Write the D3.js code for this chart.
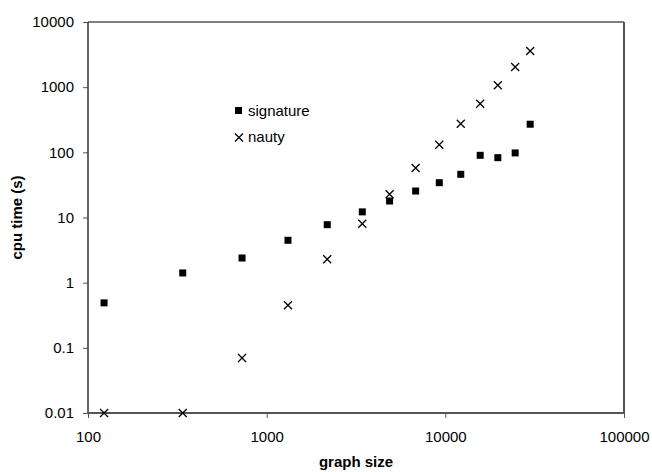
<!DOCTYPE html>
<html>
<head>
<meta charset="utf-8">
<script src="https://cdn.jsdelivr.net/npm/d3@7/dist/d3.min.js"></script>
<style>
  body { margin: 0; background: #fff; }
  svg text { font-family: "Liberation Sans", Arial, sans-serif; }
</style>
</head>
<body>
<svg id="chart" width="652" height="472"></svg>
<script>
// graph sizes (x) shared by both series
var graphSize = [123, 339, 728, 1316, 2183, 3430, 4875, 6820, 9250, 12200, 15670, 19670, 24600, 29850];
var signature = [0.49, 1.41, 2.39, 4.47, 7.76, 12.2, 17.9, 25.5, 34.2, 46, 90, 82.8, 97.9, 270];
var nauty = [0.01, 0.01, 0.07, 0.45, 2.29, 8.04, 22.7, 57.5, 131, 275, 558, 1069, 2040, 3590];

var xTicks = [100, 1000, 10000, 100000];
var yTicks = [0.01, 0.1, 1, 10, 100, 1000, 10000];

var svg = d3.select('#chart');

// plot box (window.top is reserved, so plot* names)
var plotL = 88, plotR = 624, plotT = 22, plotB = 413;

var x = d3.scaleLog().domain([100, 100000]).range([plotL, plotR]);
var y = d3.scaleLog().domain([0.01, 10000]).range([plotB, plotT]);

// axes
var xAxis = svg.append('g')
  .attr('transform', 'translate(0,' + plotB + ')')
  .call(d3.axisBottom(x).tickValues(xTicks).tickFormat(d => String(d)).tickSize(5).tickPadding(13));

var yAxis = svg.append('g')
  .attr('transform', 'translate(' + plotL + ',0)')
  .call(d3.axisLeft(y).tickValues(yTicks).tickFormat(d => String(d)).tickSize(5).tickPadding(9));

[xAxis, yAxis].forEach(g => {
  g.select('.domain').remove();
  g.selectAll('line').attr('stroke', '#555').attr('stroke-width', 1);
  g.selectAll('text').attr('font-size', 15).attr('fill', '#000')
    .attr('font-family', '"Liberation Sans", Arial, sans-serif');
});

// plot frame
svg.append('line').attr('x1', plotL).attr('x2', plotR).attr('y1', plotT).attr('y2', plotT)
  .attr('stroke', '#000').attr('stroke-width', 1.2);
svg.append('line').attr('x1', plotL).attr('x2', plotL).attr('y1', plotT).attr('y2', plotB)
  .attr('stroke', '#333').attr('stroke-width', 1.5);
svg.append('line').attr('x1', plotR).attr('x2', plotR).attr('y1', plotT).attr('y2', plotB + 1)
  .attr('stroke', '#555').attr('stroke-width', 2);
svg.append('line').attr('x1', plotL).attr('x2', plotR + 1).attr('y1', plotB).attr('y2', plotB)
  .attr('stroke', '#555').attr('stroke-width', 2);

// nauty crosses
var cross = 4;
function crossPath(cx, cy) {
  return 'M' + (cx - cross) + ',' + (cy - cross) + 'L' + (cx + cross) + ',' + (cy + cross) +
    'M' + (cx - cross) + ',' + (cy + cross) + 'L' + (cx + cross) + ',' + (cy - cross);
}

svg.append('g').attr('class', 'nauty')
  .selectAll('path')
  .data(nauty)
  .enter()
  .append('path')
  .attr('d', (d, i) => crossPath(x(graphSize[i]), y(d)))
  .attr('stroke', '#000')
  .attr('stroke-width', 1.3)
  .attr('fill', 'none');

// signature squares
var sq = 7;
svg.append('g').attr('class', 'signature')
  .selectAll('rect')
  .data(signature)
  .enter()
  .append('rect')
  .attr('x', (d, i) => x(graphSize[i]) - sq / 2)
  .attr('y', d => y(d) - sq / 2)
  .attr('width', sq)
  .attr('height', sq)
  .attr('fill', '#000');

// legend
var legend = svg.append('g').attr('class', 'legend');
legend.append('rect')
  .attr('x', 238.5 - sq / 2).attr('y', 110.5 - sq / 2)
  .attr('width', sq).attr('height', sq).attr('fill', '#000');
legend.append('text').attr('x', 248).attr('y', 115.5)
  .attr('font-size', 15).text('signature');
legend.append('path')
  .attr('d', crossPath(239, 137.5))
  .attr('stroke', '#000').attr('stroke-width', 1.3);
legend.append('text').attr('x', 248).attr('y', 142)
  .attr('font-size', 15).text('nauty');

// axis titles
svg.append('text')
  .attr('x', (plotL + plotR) / 2).attr('y', 467)
  .attr('text-anchor', 'middle')
  .attr('font-size', 15).attr('font-weight', 'bold')
  .text('graph size');

svg.append('text')
  .attr('transform', 'translate(22,' + (plotT + plotB) / 2 + ') rotate(-90)')
  .attr('text-anchor', 'middle')
  .attr('font-size', 15).attr('font-weight', 'bold')
  .text('cpu time (s)');
</script>
</body>
</html>
